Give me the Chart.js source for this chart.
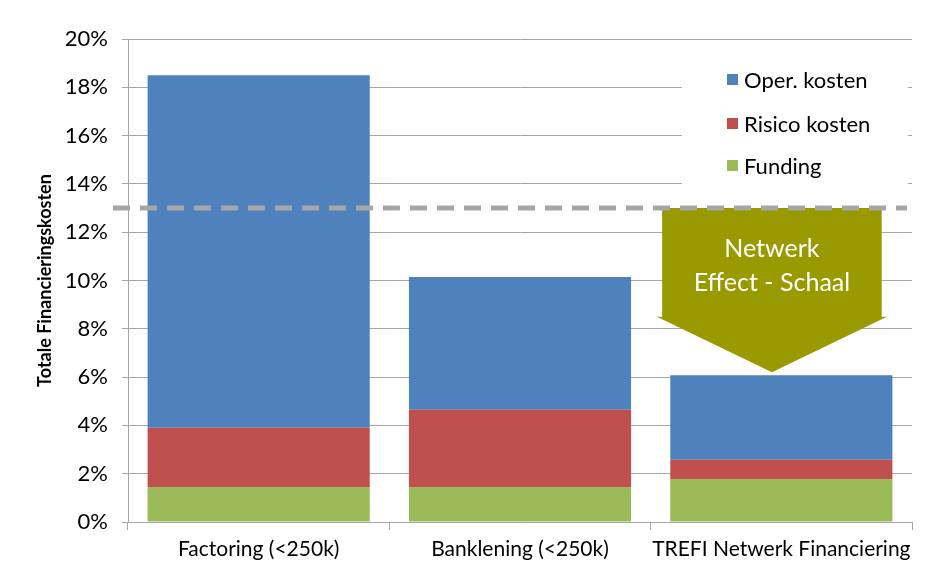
<!DOCTYPE html>
<html>
<head>
<meta charset="utf-8">
<script src="https://cdn.jsdelivr.net/npm/chart.js@4.4.1/dist/chart.umd.min.js"></script>
<style>
  html, body { margin: 0; padding: 0; background: #fff; }
  #wrap { width: 934px; height: 576px; }
</style>
</head>
<body>
<div id="wrap"><canvas id="kostenChart" width="934" height="576"></canvas></div>
<script>
// categorieen en waarden (in %)
const categories = ["Factoring (<250k)", "Banklening (<250k)", "TREFI Netwerk Financiering"];
const funding = [1.45, 1.45, 1.78];
const risicoKosten = [2.45, 3.2, 0.8];
const operKosten = [14.6, 5.5, 3.5];
const seriesLabels = ["Funding", "Risico kosten", "Oper. kosten"];
const seriesColors = ["#9bbb59", "#c0504d", "#4f81bd"];
const yTicks = [0, 2, 4, 6, 8, 10, 12, 14, 16, 18, 20];
const drempel = 13;   // gestippelde lijn
const pijlKop = 8.5;  // begin van de pijlpunt
const pijlTip = 6.2;  // punt van de pijl
const arrowText = ["Netwerk", "Effect - Schaal"];

const FONT = "Lato, 'DejaVu Sans', sans-serif";
const GRID = "#a6a6a6";

// legenda met witte achtergrond, over de rasterlijnen
const legendBox = {
    id: "legendBox",
    beforeDatasetsDraw(chart) {
        const { ctx, chartArea } = chart;
        const x0 = chartArea.right - 230;
        ctx.save();
        ctx.fillStyle = "#fff";
        ctx.fillRect(x0, 52, 226, 142);
        ctx.font = "22px " + FONT;
        ctx.textBaseline = "middle";
        ctx.textAlign = "left";
        const rows = [80, 124, 166];
        for (let i = 0; i < 3; i++) {
            const ds = chart.data.datasets[2 - i];
            ctx.fillStyle = ds.backgroundColor;
            ctx.fillRect(x0 + 45, rows[i] - 6, 11, 11);
            ctx.fillStyle = "#000";
            ctx.fillText(ds.label, x0 + 62, rows[i] + 1);
        }
        ctx.restore();
    },
};

// pijl + gestippelde lijn
const netwerkArrow = {
    id: "netwerkArrow",
    afterDatasetsDraw(chart) {
        const { ctx, chartArea, scales } = chart;
        const xs = scales.x, ys = scales.y;
        const catW = xs.getPixelForValue(1) - xs.getPixelForValue(0);
        const cx = xs.getPixelForValue(2) - catW * 0.036;
        const yTop = ys.getPixelForValue(drempel);
        const yHead = ys.getPixelForValue(pijlKop);
        const yTip = ys.getPixelForValue(pijlTip);
        const bodyHalf = catW * 0.42;
        const headHalf = catW * 0.44;

        ctx.save();
        ctx.fillStyle = "#999900";
        ctx.beginPath();
        ctx.moveTo(cx - bodyHalf, yTop);
        ctx.lineTo(cx + bodyHalf, yTop);
        ctx.lineTo(cx + bodyHalf, yHead);
        ctx.lineTo(cx + headHalf, yHead);
        ctx.lineTo(cx, yTip);
        ctx.lineTo(cx - headHalf, yHead);
        ctx.lineTo(cx - bodyHalf, yHead);
        ctx.closePath();
        ctx.fill();

        ctx.fillStyle = "#fff";
        ctx.font = "25px " + FONT;
        ctx.textAlign = "center";
        ctx.textBaseline = "middle";
        ctx.fillText(arrowText[0], cx, yTop + 41);
        ctx.fillText(arrowText[1], cx, yTop + 75);

        ctx.strokeStyle = GRID;
        ctx.lineWidth = 5;
        ctx.setLineDash([17, 10]);
        ctx.beginPath();
        ctx.moveTo(chartArea.left - 15, yTop);
        ctx.lineTo(chartArea.right - 5, yTop);
        ctx.stroke();
        ctx.restore();
    },
};

document.addEventListener("DOMContentLoaded", () => {
    const ctx = document.getElementById("kostenChart").getContext("2d");
    const series = [funding, risicoKosten, operKosten];
    new Chart(ctx, {
        type: "bar",
        data: {
            labels: categories,
            datasets: series.map((d, i) => ({
                label: seriesLabels[i],
                data: d,
                backgroundColor: seriesColors[i],
                borderWidth: 0,
                barPercentage: 0.85,
                categoryPercentage: 1,
            })),
        },
        options: {
            responsive: false,
            animation: false,
            devicePixelRatio: 1,
            layout: { padding: { left: 0, right: 22, top: 39, bottom: 0 } },
            plugins: {
                legend: { display: false },
                tooltip: { enabled: false },
            },
            scales: {
                x: {
                    stacked: true,
                    grid: { display: true, drawOnChartArea: false, color: GRID, tickLength: 8 },
                    border: { color: GRID },
                    ticks: {
                        color: "#000",
                        font: { family: FONT, size: 21 },
                        padding: 7,
                        maxRotation: 0,
                        autoSkip: false,
                    },
                    afterFit(scale) { scale.height = 54; },
                },
                y: {
                    stacked: true,
                    min: 0,
                    max: 20,
                    afterBuildTicks(scale) { scale.ticks = yTicks.map((v) => ({ value: v })); },
                    grid: { color: GRID, tickLength: 6 },
                    border: { color: GRID },
                    ticks: {
                        color: "#000",
                        font: { family: FONT, size: 22 },
                        padding: 14,
                        callback: (v) => v + "%",
                    },
                    title: {
                        display: true,
                        text: "Totale Financieringskosten",
                        color: "#000",
                        font: { family: FONT, size: 18, weight: "bold" },
                        padding: { top: 34, bottom: 0 },
                    },
                    afterFit(scale) { scale.width = 128; },
                },
            },
        },
        plugins: [legendBox, netwerkArrow],
    });
});
</script>
</body>
</html>
